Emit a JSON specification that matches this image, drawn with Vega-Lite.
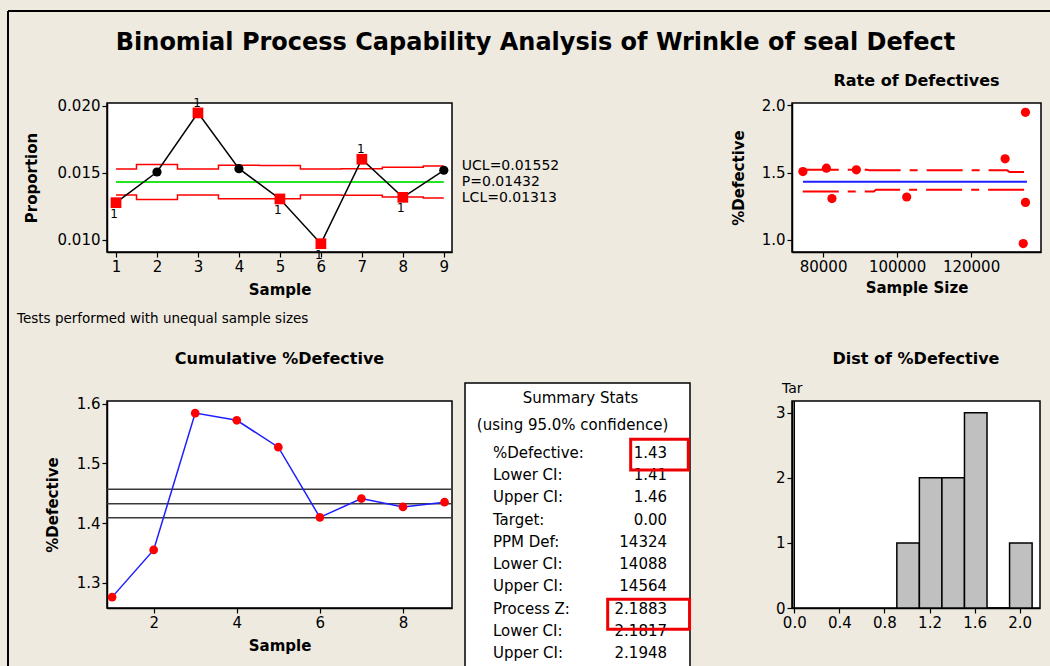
{
  "$schema": "https://vega.github.io/schema/vega-lite/v6.json",
  "background": "#EEEAE0",
  "autosize": {"type": "none"},
  "padding": {"left": 107, "top": 103, "right": 943, "bottom": 563},
  "title": {
    "text": "Binomial Process Capability Analysis of Wrinkle of seal Defect",
    "fontSize": 24,
    "anchor": "middle",
    "frame": "bounds",
    "offset": 0,
    "dy": 76
  },
  "columns": 3,
  "align": "each",
  "bounds": "flush",
  "spacing": {"row": 149, "column": 13},
  "datasets": {
    "samples": [
      {"sample": 1, "n": 134700, "p": 0.01278, "ucl": 0.015291, "lcl": 0.013349, "fail": 1, "cum": 1.276},
      {"sample": 2, "n": 74550, "p": 0.01507, "ucl": 0.015625, "lcl": 0.013015, "fail": 0, "cum": 1.355},
      {"sample": 3, "n": 134700, "p": 0.01948, "ucl": 0.015291, "lcl": 0.013349, "fail": 1, "cum": 1.584},
      {"sample": 4, "n": 80900, "p": 0.01532, "ucl": 0.015573, "lcl": 0.013067, "fail": 0, "cum": 1.572},
      {"sample": 5, "n": 82400, "p": 0.01306, "ucl": 0.015562, "lcl": 0.013078, "fail": 1, "cum": 1.527},
      {"sample": 6, "n": 134100, "p": 0.00972, "ucl": 0.015293, "lcl": 0.013347, "fail": 1, "cum": 1.4095},
      {"sample": 7, "n": 129200, "p": 0.01602, "ucl": 0.015312, "lcl": 0.013328, "fail": 1, "cum": 1.441},
      {"sample": 8, "n": 102600, "p": 0.01318, "ucl": 0.015433, "lcl": 0.013207, "fail": 1, "cum": 1.427},
      {"sample": 9, "n": 89000, "p": 0.0152, "ucl": 0.015515, "lcl": 0.013125, "fail": 0, "cum": 1.435}
    ],
    "limitLabels": [
      {"label": "UCL=0.01552", "value": 0.01552},
      {"label": "P=0.01432", "value": 0.01432},
      {"label": "LCL=0.01313", "value": 0.01313}
    ],
    "rateLimits": [
      {"bound": "upper", "n": 74500, "p": 0.01521},
      {"bound": "upper", "n": 91900, "p": 0.01521},
      {"bound": "upper", "n": 92600, "p": 0.01516},
      {"bound": "upper", "n": 129800, "p": 0.01516},
      {"bound": "upper", "n": 130400, "p": 0.01503},
      {"bound": "upper", "n": 135100, "p": 0.01503},
      {"bound": "lower", "n": 74500, "p": 0.01359},
      {"bound": "lower", "n": 93700, "p": 0.01359},
      {"bound": "lower", "n": 94300, "p": 0.01372},
      {"bound": "lower", "n": 135100, "p": 0.01372}
    ],
    "ciLevels": [
      {"level": 1.4088},
      {"level": 1.4324},
      {"level": 1.4564}
    ],
    "hist": [
      {"lo": 0.91, "hi": 1.11, "count": 1},
      {"lo": 1.11, "hi": 1.31, "count": 2},
      {"lo": 1.31, "hi": 1.51, "count": 2},
      {"lo": 1.51, "hi": 1.71, "count": 3},
      {"lo": 1.71, "hi": 1.91, "count": 0},
      {"lo": 1.91, "hi": 2.11, "count": 1}
    ],
    "stats": [
      {"line": 0, "label": "%Defective:", "value": "1.43"},
      {"line": 1, "label": "Lower CI:", "value": "1.41"},
      {"line": 2, "label": "Upper CI:", "value": "1.46"},
      {"line": 3, "label": "Target:", "value": "0.00"},
      {"line": 4, "label": "PPM Def:", "value": "14324"},
      {"line": 5, "label": "Lower CI:", "value": "14088"},
      {"line": 6, "label": "Upper CI:", "value": "14564"},
      {"line": 7, "label": "Process Z:", "value": "2.1883"},
      {"line": 8, "label": "Lower CI:", "value": "2.1817"},
      {"line": 9, "label": "Upper CI:", "value": "2.1948"}
    ]
  },
  "concat": [
    {
      "width": 345,
      "height": 149,
      "title": {"text": "P Chart", "offset": 14},
      "layer": [
        {
          "data": {"name": "samples"},
          "mark": {"type": "line", "interpolate": "step", "color": "#FF0000", "strokeWidth": 1.5},
          "encoding": {
            "x": {"field": "sample", "type": "quantitative", "title": "Sample",
              "scale": {"domain": [0.78, 9.2], "nice": false, "zero": false},
              "axis": {"values": [1, 2, 3, 4, 5, 6, 7, 8, 9], "format": "d", "titlePadding": 8}},
            "y": {"field": "ucl", "type": "quantitative", "title": "Proportion",
              "scale": {"domain": [0.0091, 0.02022], "nice": false, "zero": false},
              "axis": {"values": [0.01, 0.015, 0.02], "format": ".3f", "titlePadding": 18}}
          }
        },
        {
          "data": {"name": "samples"},
          "mark": {"type": "line", "interpolate": "step", "color": "#FF0000", "strokeWidth": 1.5},
          "encoding": {
            "x": {"field": "sample", "type": "quantitative", "title": "Sample"},
            "y": {"field": "lcl", "type": "quantitative", "title": "Proportion"}
          }
        },
        {
          "data": {"values": [{}]},
          "mark": {"type": "rule", "color": "#22E622", "strokeWidth": 2},
          "encoding": {
            "x": {"datum": 1, "type": "quantitative"},
            "x2": {"datum": 9},
            "y": {"datum": 0.01432, "type": "quantitative"}
          }
        },
        {
          "data": {"name": "samples"},
          "mark": {"type": "line", "color": "#000000", "strokeWidth": 1.5},
          "encoding": {
            "x": {"field": "sample", "type": "quantitative", "title": "Sample"},
            "y": {"field": "p", "type": "quantitative", "title": "Proportion"}
          }
        },
        {
          "data": {"name": "samples"},
          "transform": [{"filter": "datum.fail == 0"}],
          "mark": {"type": "point", "shape": "circle", "filled": true, "color": "#000000", "size": 85, "opacity": 1},
          "encoding": {
            "x": {"field": "sample", "type": "quantitative", "title": "Sample"},
            "y": {"field": "p", "type": "quantitative", "title": "Proportion"}
          }
        },
        {
          "data": {"name": "samples"},
          "transform": [{"filter": "datum.fail == 1"}],
          "mark": {"type": "point", "shape": "square", "filled": true, "color": "#FF0000", "size": 115, "opacity": 1},
          "encoding": {
            "x": {"field": "sample", "type": "quantitative", "title": "Sample"},
            "y": {"field": "p", "type": "quantitative", "title": "Proportion"}
          }
        },
        {
          "data": {"name": "samples"},
          "transform": [{"filter": "datum.fail == 1 && datum.p > 0.01432"}],
          "mark": {"type": "text", "text": "1", "fontSize": 12, "baseline": "middle", "dy": -10, "dx": -1},
          "encoding": {
            "x": {"field": "sample", "type": "quantitative", "title": "Sample"},
            "y": {"field": "p", "type": "quantitative", "title": "Proportion"}
          }
        },
        {
          "data": {"name": "samples"},
          "transform": [{"filter": "datum.fail == 1 && datum.p < 0.01432"}],
          "mark": {"type": "text", "text": "1", "fontSize": 12, "baseline": "middle", "dy": 11, "dx": -2},
          "encoding": {
            "x": {"field": "sample", "type": "quantitative", "title": "Sample"},
            "y": {"field": "p", "type": "quantitative", "title": "Proportion"}
          }
        },
        {
          "data": {"name": "limitLabels"},
          "mark": {"type": "text", "align": "left", "baseline": "middle", "fontSize": 14, "dx": 18},
          "encoding": {
            "x": {"datum": 9, "type": "quantitative"},
            "y": {"field": "value", "type": "quantitative", "title": "Proportion"},
            "text": {"field": "label"}
          }
        },
        {
          "data": {"values": [{}]},
          "mark": {"type": "rule", "color": "#000000", "strokeWidth": 2},
          "encoding": {
            "x": {"datum": -1.636, "type": "quantitative"},
            "y": {"datum": 0.027086, "type": "quantitative"},
            "y2": {"datum": -0.024336}
          }
        },
        {
          "data": {"values": [{}]},
          "mark": {"type": "rule", "color": "#000000", "strokeWidth": 2},
          "encoding": {
            "x": {"datum": -1.636, "type": "quantitative"},
            "x2": {"datum": 24.11},
            "y": {"datum": 0.027086, "type": "quantitative"}
          }
        },
        {
          "data": {"values": [{}]},
          "mark": {"type": "text", "text": "Tests performed with unequal sample sizes", "align": "left", "baseline": "middle", "fontSize": 13.5},
          "encoding": {
            "x": {"datum": -1.417, "type": "quantitative"},
            "y": {"datum": 0.004099, "type": "quantitative"}
          }
        }
      ]
    },
    {
      "width": 1,
      "height": 1,
      "view": {"stroke": null, "fill": null},
      "data": {"values": []},
      "mark": {"type": "point"}
    },
    {
      "width": 249,
      "height": 149,
      "title": {"text": "Rate of Defectives", "offset": 9},
      "layer": [
        {
          "data": {"name": "rateLimits"},
          "mark": {"type": "line", "color": "#FF0000", "strokeWidth": 2, "strokeDash": [36, 9, 8, 9]},
          "encoding": {
            "x": {"field": "n", "type": "quantitative", "title": "Sample Size",
              "scale": {"domain": [71600, 138900], "nice": false, "zero": false},
              "axis": {"values": [80000, 100000, 120000], "format": "d", "titlePadding": 6}},
            "y": {"field": "p", "type": "quantitative", "title": "%Defective",
              "scale": {"domain": [0.00909, 0.02017], "nice": false, "zero": false},
              "axis": {"values": [0.01, 0.015, 0.02], "labelExpr": "format(datum.value * 100, '.1f')", "titlePadding": 15}},
            "detail": {"field": "bound"}
          }
        },
        {
          "data": {"values": [{}]},
          "mark": {"type": "rule", "color": "#1E1EFF", "strokeWidth": 2},
          "encoding": {
            "x": {"datum": 74550, "type": "quantitative"},
            "x2": {"datum": 135100},
            "y": {"datum": 0.01432, "type": "quantitative"}
          }
        },
        {
          "data": {"name": "samples"},
          "mark": {"type": "point", "shape": "circle", "filled": true, "color": "#FF0000", "size": 85, "opacity": 1},
          "encoding": {
            "x": {"field": "n", "type": "quantitative", "title": "Sample Size"},
            "y": {"field": "p", "type": "quantitative", "title": "%Defective"}
          }
        }
      ]
    },
    {
      "width": 345,
      "height": 207,
      "title": {"text": "Cumulative %Defective", "offset": 30},
      "layer": [
        {
          "data": {"name": "ciLevels"},
          "mark": {"type": "rule", "color": "#3A3A3A", "strokeWidth": 1.5},
          "encoding": {
            "y": {"field": "level", "type": "quantitative", "title": "%Defective",
              "scale": {"domain": [1.2578, 1.6043], "nice": false, "zero": false},
              "axis": {"values": [1.3, 1.4, 1.5, 1.6], "format": ".1f", "titlePadding": 16}}
          }
        },
        {
          "data": {"name": "samples"},
          "mark": {"type": "line", "color": "#1E1EFF", "strokeWidth": 1.5},
          "encoding": {
            "x": {"field": "sample", "type": "quantitative", "title": "Sample",
              "scale": {"domain": [0.877, 9.18], "nice": false, "zero": false},
              "axis": {"values": [2, 4, 6, 8], "format": "d", "titlePadding": 8}},
            "y": {"field": "cum", "type": "quantitative", "title": "%Defective"}
          }
        },
        {
          "data": {"name": "samples"},
          "mark": {"type": "point", "shape": "circle", "filled": true, "color": "#FF0000", "size": 75, "opacity": 1},
          "encoding": {
            "x": {"field": "sample", "type": "quantitative", "title": "Sample"},
            "y": {"field": "cum", "type": "quantitative", "title": "%Defective"}
          }
        }
      ]
    },
    {
      "width": 314,
      "height": 265,
      "view": {"stroke": null, "fill": null},
      "layer": [
        {
          "data": {"values": [{}]},
          "mark": {"type": "rect", "fill": "#FFFFFF", "stroke": "#000000", "strokeWidth": 1.5},
          "encoding": {
            "x": {"datum": 0, "type": "quantitative", "scale": {"domain": [0, 1.3956], "nice": false, "zero": false}, "axis": null},
            "x2": {"datum": 1},
            "y": {"datum": -3.127, "type": "quantitative", "scale": {"domain": [-2.319, 9.569], "nice": false, "zero": false, "reverse": true}, "axis": null},
            "y2": {"datum": 12}
          }
        },
        {
          "data": {"values": [{}]},
          "mark": {"type": "text", "text": "Summary Stats", "align": "center", "baseline": "middle", "fontSize": 15},
          "encoding": {
            "x": {"datum": 0.513, "type": "quantitative", "axis": null},
            "y": {"datum": -2.467, "type": "quantitative", "axis": null}
          }
        },
        {
          "data": {"values": [{}]},
          "mark": {"type": "text", "text": "(using 95.0% confidence)", "align": "center", "baseline": "middle", "fontSize": 15},
          "encoding": {
            "x": {"datum": 0.478, "type": "quantitative", "axis": null},
            "y": {"datum": -1.243, "type": "quantitative", "axis": null}
          }
        },
        {
          "data": {"name": "stats"},
          "mark": {"type": "text", "align": "left", "baseline": "middle", "fontSize": 15},
          "encoding": {
            "x": {"datum": 0.124, "type": "quantitative", "axis": null},
            "y": {"field": "line", "type": "quantitative", "axis": null},
            "text": {"field": "label"}
          }
        },
        {
          "data": {"name": "stats"},
          "mark": {"type": "text", "align": "right", "baseline": "middle", "fontSize": 15},
          "encoding": {
            "x": {"datum": 0.898, "type": "quantitative", "axis": null},
            "y": {"field": "line", "type": "quantitative", "axis": null},
            "text": {"field": "value"}
          }
        },
        {
          "data": {"values": [{}]},
          "mark": {"type": "rect", "fillOpacity": 0, "stroke": "#EE0000", "strokeWidth": 3},
          "encoding": {
            "x": {"datum": 0.7364, "type": "quantitative", "axis": null},
            "x2": {"datum": 0.9924},
            "y": {"datum": -0.601, "type": "quantitative", "axis": null},
            "y2": {"datum": 0.776}
          }
        },
        {
          "data": {"values": [{}]},
          "mark": {"type": "rect", "fillOpacity": 0, "stroke": "#EE0000", "strokeWidth": 3},
          "encoding": {
            "x": {"datum": 0.6342, "type": "quantitative", "axis": null},
            "x2": {"datum": 0.998},
            "y": {"datum": 6.577, "type": "quantitative", "axis": null},
            "y2": {"datum": 7.923}
          }
        }
      ]
    },
    {
      "width": 248,
      "height": 207,
      "title": {"text": "Dist of %Defective", "offset": 15},
      "layer": [
        {
          "data": {"name": "hist"},
          "mark": {"type": "rect", "fill": "#C0C0C0", "stroke": "#000000", "strokeWidth": 1.5},
          "encoding": {
            "x": {"field": "lo", "type": "quantitative", "title": null,
              "scale": {"domain": [-0.02, 2.18], "nice": false, "zero": false},
              "axis": {"values": [0, 0.4, 0.8, 1.2, 1.6, 2.0], "format": ".1f"}},
            "x2": {"field": "hi"},
            "y": {"field": "count", "type": "quantitative", "title": null,
              "scale": {"domain": [0, 3.18], "nice": false, "zero": false},
              "axis": {"values": [0, 1, 2, 3], "format": "d"}},
            "y2": {"datum": 0}
          }
        },
        {
          "data": {"values": [{}]},
          "mark": {"type": "rule", "color": "#000000", "strokeWidth": 1.5},
          "encoding": {
            "x": {"datum": 0, "type": "quantitative"}
          }
        },
        {
          "data": {"values": [{}]},
          "mark": {"type": "text", "text": "Tar", "align": "center", "baseline": "middle", "fontSize": 14, "dx": -2},
          "encoding": {
            "x": {"datum": 0, "type": "quantitative"},
            "y": {"datum": 3.364, "type": "quantitative"}
          }
        }
      ]
    }
  ],
  "config": {
    "font": "DejaVu Sans",
    "view": {"stroke": "#000000", "strokeWidth": 1.5, "fill": "#FFFFFF"},
    "title": {"font": "DejaVu Sans", "fontWeight": "bold", "fontSize": 16, "color": "#000000"},
    "text": {"font": "DejaVu Sans", "color": "#000000"},
    "axis": {
      "labelFont": "DejaVu Sans",
      "labelFontSize": 15,
      "labelColor": "#000000",
      "labelPadding": 2,
      "labelFlush": false,
      "labelOverlap": false,
      "titleFont": "DejaVu Sans",
      "titleFontSize": 15,
      "titleFontWeight": "bold",
      "titleColor": "#000000",
      "tickColor": "#000000",
      "tickSize": 5,
      "tickWidth": 1.2,
      "domainColor": "#000000",
      "domainWidth": 1.5,
      "grid": false
    }
  }
}
